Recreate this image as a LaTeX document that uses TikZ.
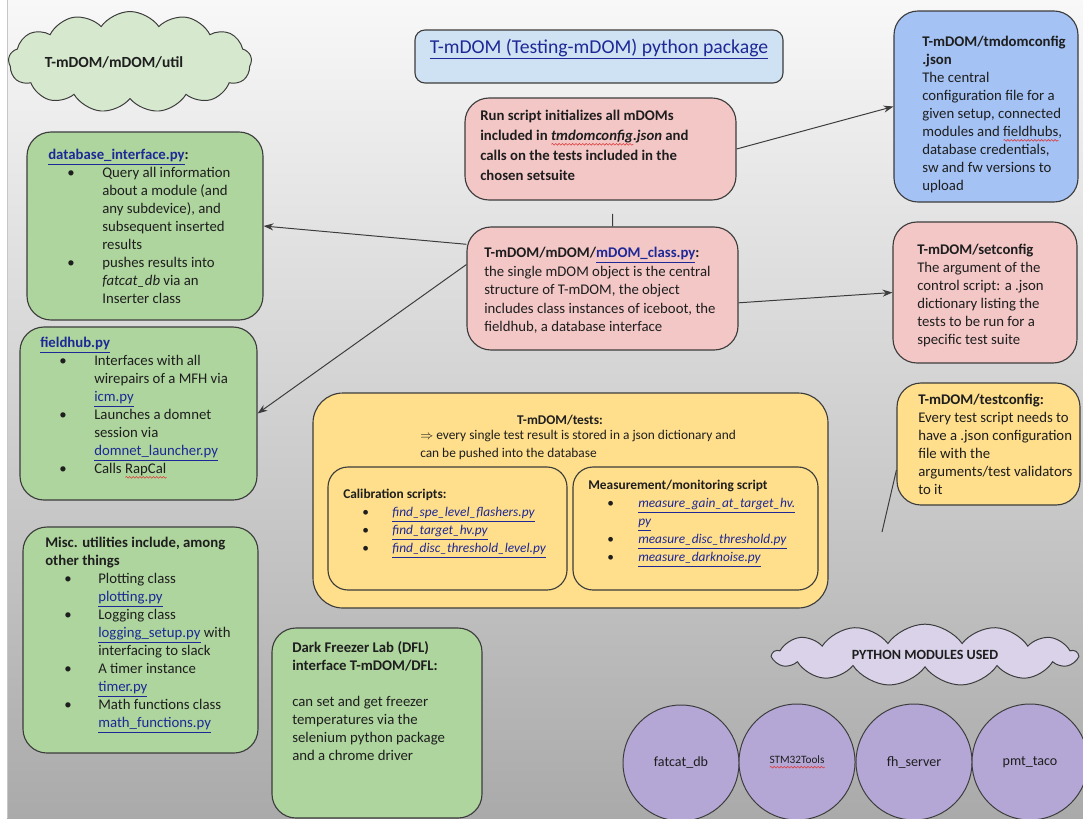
\documentclass[tikz,border=0pt]{standalone}
\usepackage{fontspec}
\setmainfont{Carlito}
\usepackage{xcolor}
\usetikzlibrary{arrows.meta,positioning,fit,shapes.symbols,decorations.pathmorphing}

\definecolor{bgtop}{RGB}{248,248,248}
\definecolor{bgbot}{RGB}{170,170,170}
\definecolor{boxgreen}{RGB}{174,213,158}
\definecolor{cloudgreen}{RGB}{214,233,206}
\definecolor{boxpink}{RGB}{244,199,199}
\definecolor{boxblue}{RGB}{164,194,244}
\definecolor{titleblue}{RGB}{207,226,243}
\definecolor{boxyellow}{RGB}{255,223,140}
\definecolor{circlepurple}{RGB}{180,167,214}
\definecolor{cloudpurple}{RGB}{217,210,233}
\definecolor{linkblue}{RGB}{30,40,150}
\definecolor{textgray}{RGB}{30,30,30}
\definecolor{edgegray}{RGB}{60,60,60}
\definecolor{wavered}{RGB}{220,60,60}

\newlength\px
\setlength\px{0.025cm}
\newlength\spellwd
\newcommand{\lnk}[1]{{\color{linkblue}\underline{#1}}}
\newcommand{\itm}[2][54]{\makebox[#1\px][l]{\hspace*{19\px}\textbullet}#2}
\newcommand{\cnt}[2][54]{\hspace*{#1\px}#2}
\newcommand{\spell}[1]{\settowidth{\spellwd}{#1}\rlap{\tikz[baseline=0pt]
  \draw[wavered, line width=0.4pt, decorate, decoration={snake, amplitude=0.6pt, segment length=2.4pt}]
  (0pt,-2.6pt) -- (\spellwd,-2.6pt);}#1}
\newcommand{\bodyfont}{\fontsize{10.5}{12.8}\selectfont}
\newcommand{\testfont}{\fontsize{9.5}{12.8}\selectfont}

\tikzset{
  box/.style={draw=edgegray, line width=0.8pt, rounded corners=0.6cm, inner sep=0pt},
  greenbox/.style={box, fill=boxgreen},
  pinkbox/.style={box, fill=boxpink},
  bluebox/.style={box, fill=boxblue},
  yellowbox/.style={box, fill=boxyellow},
  cloudbox/.style={cloud, cloud puffs=13, cloud puff arc=110, draw=edgegray,
                   line width=0.7pt, inner sep=0pt, text=textgray},
  module/.style={circle, draw=edgegray, line width=0.7pt, fill=circlepurple,
                 minimum size=2.9cm, inner sep=0pt, text=textgray,
                 font=\fontsize{10}{12}\selectfont},
  txt/.style={anchor=north west, inner sep=0pt, align=left, text=textgray, font=\bodyfont},
  link/.style={draw=edgegray, line width=0.7pt},
  arr/.style={link, -{Stealth[length=7pt,width=5pt]}}
}

\begin{document}
\begin{tikzpicture}[x=0.025cm,y=-0.025cm]
  \useasboundingbox (0,0) rectangle (1083,818);
  \shade[top color=bgtop, bottom color=bgbot] (7,0) rectangle (1083,818);
  \draw[gray!45] (7,0) -- (7,818);

  % clouds and title
  \node[cloudbox, fill=cloudgreen, aspect=3.3, minimum width=5.0cm, minimum height=1.5cm,
        font=\fontsize{11}{13}\selectfont\bfseries] (util) at (130,62)
        {T-mDOM/mDOM/util\hspace*{0.8cm}};
  \node[box, fill=titleblue, rounded corners=0.25cm, fit={(415,30) (783,83)},
        font=\fontsize{14}{17}\selectfont] (title)
        {\lnk{T-mDOM (Testing-mDOM) python package}};

  % run script and config
  \node[pinkbox, fit={(465,98) (736,200)}] (run) {};
  \node[txt, font=\fontsize{10.5}{14.2}\selectfont\bfseries] (runtxt) at (480,110)
    {Run script initializes all mDOMs\\ included in \textit{\spell{tmdomconfig}.json} and\\
     calls on the tests included in the\\ chosen setsuite};

  \node[bluebox, fit={(894,11) (1078,202)}] (config) {};
  \node[txt] (configtxt) at (922,36)
    {\textbf{T-mDOM/tmdomconfig}\\ \textbf{.json}\\ The central\\ configuration file for a\\
     given setup, connected\\ modules and \spell{fieldhubs},\\ database credentials,\\
     sw and fw versions to\\ upload};

  % left column
  \node[greenbox, fit={(27,132) (263,320)}] (db) {};
  \node[txt] (dbtxt) at (48,149)
    {\textbf{\lnk{database\_interface.py}:}\\
     \itm{Query all information}\\ \cnt{about a module (and}\\ \cnt{any subdevice), and}\\
     \cnt{subsequent inserted}\\ \cnt{results}\\
     \itm{pushes results into}\\ \cnt{\textit{fatcat\_db} via an}\\ \cnt{Inserter class}};

  \node[greenbox, fit={(20,327) (257,500)}] (fh) {};
  \node[txt] (fhtxt) at (40,337)
    {\textbf{\lnk{fieldhub.py}}\\
     \itm{Interfaces with all}\\ \cnt{wirepairs of a MFH via}\\ \cnt{\lnk{icm.py}}\\
     \itm{Launches a domnet}\\ \cnt{session via}\\ \cnt{\lnk{domnet\_launcher.py}}\\
     \itm{Calls \spell{RapCal}}};

  \node[greenbox, fit={(23,527) (258,753)}] (misc) {};
  \node[txt] (misctxt) at (45,537)
    {\textbf{Misc. utilities include, among}\\ \textbf{other things}\\
     \itm[53]{Plotting class}\\ \cnt[53]{\lnk{plotting.py}}\\
     \itm[53]{Logging class}\\ \cnt[53]{\lnk{logging\_setup.py} with}\\ \cnt[53]{interfacing to slack}\\
     \itm[53]{A timer instance}\\ \cnt[53]{\lnk{timer.py}}\\
     \itm[53]{Math functions class}\\ \cnt[53]{\lnk{math\_functions.py}}};

  % mDOM class and setconfig
  \node[pinkbox, fit={(467,227) (738,350)}] (mdom) {};
  \node[txt, font=\fontsize{10.5}{13.2}\selectfont] (mdomtxt) at (484,247)
    {\textbf{T-mDOM/mDOM/\lnk{mDOM\_class.py}:}\\ the single mDOM object is the central\\
     structure of T-mDOM, the object\\ includes class instances of iceboot, the\\
     fieldhub, a database interface};

  \node[pinkbox, fit={(893,222) (1077,363)}] (setcfg) {};
  \node[txt] (setcfgtxt) at (917,244)
    {\textbf{T-mDOM/setconfig}\\ The argument of the\\ control script: a .json\\
     dictionary listing the\\ tests to be run for a\\ specific test suite};

  % tests
  \node[yellowbox, rounded corners=0.75cm, fit={(313,393) (828,608)}] (tests) {};
  \node[txt, anchor=north, font=\testfont\bfseries] (teststitle) at (560,415) {T-mDOM/tests:};
  \node[txt, font=\testfont] (teststxt) at (420,430)
    {$\Rightarrow$ every single test result is stored in a json dictionary and\\
     can be pushed into the database};
  \node[yellowbox, rounded corners=0.5cm, fit={(328,467) (567,590)}] (calib) {};
  \node[txt, font=\testfont] (calibtxt) at (343,489)
    {\textbf{Calibration scripts:}\\
     \itm[49]{\lnk{\textit{find\_spe\_level\_flashers.py}}}\\
     \itm[49]{\lnk{\textit{find\_target\_hv.py}}}\\
     \itm[49]{\lnk{\textit{find\_disc\_threshold\_level.py}}}};
  \node[yellowbox, rounded corners=0.5cm, fit={(573,467) (818,590)}] (meas) {};
  \node[txt, font=\testfont] (meastxt) at (588,480)
    {\textbf{Measurement/monitoring script}\\
     \itm[50]{\lnk{\textit{measure\_gain\_at\_target\_hv.}}}\\ \cnt[50]{\lnk{\textit{py}}}\\
     \itm[50]{\lnk{\textit{measure\_disc\_threshold.py}}}\\
     \itm[50]{\lnk{\textit{measure\_darknoise.py}}}};

  \node[yellowbox, fit={(897,383) (1080,505)}] (testcfg) {};
  \node[txt] (testcfgtxt) at (918,394)
    {\textbf{T-mDOM/testconfig:}\\ Every test script needs to\\ have a .json configuration\\
     file with the\\ arguments/test validators\\ to it};

  % DFL
  \node[greenbox, fit={(272,628) (482,818)}] (dfl) {};
  \node[txt] (dfltxt) at (292,641)
    {\textbf{Dark Freezer Lab (DFL)}\\ \textbf{interface T-mDOM/DFL:}\\[13pt]
     can set and get freezer\\ temperatures via the\\ selenium python package\\
     and a chrome driver};

  % python modules
  \node[cloudbox, fill=cloudpurple, aspect=5.6, minimum width=7.6cm, minimum height=1.35cm,
        font=\fontsize{10}{12}\selectfont\bfseries] (pymods) at (925,655) {PYTHON MODULES USED};
  \node[module] (fatcat) at (681,763) {fatcat\_db};
  \node[module, font=\fontsize{8}{10}\selectfont] (stm) at (797,762) {\spell{STM32Tools}\\[12pt]};
  \node[module] (fhserver) at (914,762) {fh\_server\\[10pt]};
  \node[module] (pmt) at (1030,762) {pmt\_taco\\[10pt]};

  % connectors
  \draw[arr] (run.east) -- (config.west);
  \draw[arr] (mdom.162) -- (db.east);
  \draw[arr] (mdom.170) -- (fh.east);
  \draw[arr] (mdom.-6) -- (setcfg.west);
  \draw[link] ([xshift=0.3cm,yshift=-0.33cm]run.south) -- ([xshift=0.25cm]mdom.north);
  \coordinate (tcfoot) at (882,532);
  \draw[link] ([yshift=-0.65cm]testcfg.west) -- (tcfoot);
\end{tikzpicture}
\end{document}
